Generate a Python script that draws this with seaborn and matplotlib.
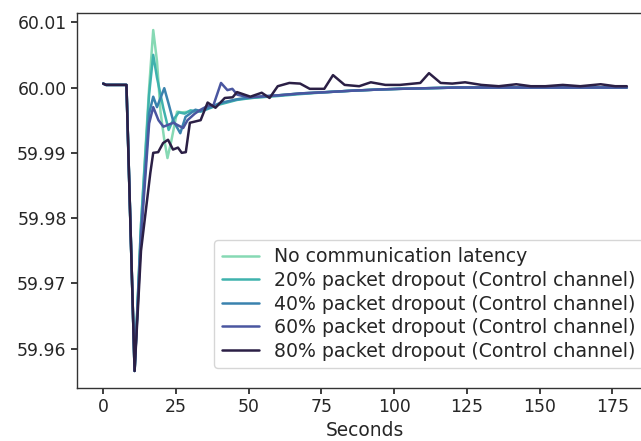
import matplotlib
matplotlib.use("Agg")
import matplotlib.pyplot as plt
import seaborn as sns
import pandas as pd

# Grid frequency response (Hz) over time (s) for different packet dropout rates
labels = [
    "No communication latency",
    "20% packet dropout (Control channel)",
    "40% packet dropout (Control channel)",
    "60% packet dropout (Control channel)",
    "80% packet dropout (Control channel)",
]

t_none = [0, 1, 8, 10.8, 13, 15.8, 17.2, 18.5, 19.7, 21, 22.1, 23.5, 25.4, 27, 30,
          33.5, 40, 46, 51, 60, 68, 77, 85, 95, 102, 112, 122, 135, 150, 165, 180]
f_none = [60.0006, 60.0004, 60.0004, 59.9566, 59.9790, 60.0000, 60.0088, 60.0040, 59.9963,
          59.9920, 59.9892, 59.9920, 59.9963, 59.9962, 59.9963,
          59.9964, 59.9975, 59.9982, 59.9984, 59.9988, 59.9991, 59.9993, 59.9995, 59.9997,
          59.9998, 59.9999, 60.0000, 60.0000, 60.0000, 60.0000, 60.0000]

t_20 = [0, 1, 8, 10.8, 13, 15.8, 17.2, 18.5, 20.7, 22.5, 24, 26, 28, 30,
        33.5, 40, 46, 51, 60, 68, 77, 85, 95, 102, 112, 122, 135, 150, 165, 180]
f_20 = [60.0006, 60.0004, 60.0004, 59.9566, 59.9790, 59.9990, 60.0050, 60.0015, 59.9968,
        59.9935, 59.9950, 59.9962, 59.9960, 59.9965,
        59.9963, 59.9974, 59.9981, 59.9984, 59.9987, 59.9990, 59.9993, 59.9995, 59.9997,
        59.9998, 59.9999, 60.0000, 60.0000, 60.0000, 60.0000, 60.0000]

t_40 = [0, 1, 8, 10.8, 13, 15.8, 17.2, 18.5, 21, 22.5, 24, 26.5, 28.3, 31.7,
        33.5, 37, 40, 46, 51, 60, 68, 77, 85, 95, 102, 112, 122, 135, 150, 165, 180]
f_40 = [60.0006, 60.0004, 60.0004, 59.9566, 59.9780, 59.9960, 59.9986, 59.9970, 59.9999,
        59.9975, 59.9950, 59.9930, 59.9955, 59.9966,
        59.9964, 59.9970, 59.9976, 59.9982, 59.9985, 59.9988, 59.9991, 59.9993, 59.9995,
        59.9997, 59.9998, 59.9999, 60.0000, 60.0000, 60.0000, 60.0000, 60.0000]

t_60 = [0, 1, 8, 10.8, 13, 15.8, 17.2, 19, 20.7, 24.1, 27.5, 29, 31.5, 33.5,
        36, 37.9, 40.5, 42.7, 44.4, 46.1, 50, 60, 68, 77, 85, 95, 102, 112, 122,
        135, 150, 165, 180]
f_60 = [60.0006, 60.0004, 60.0004, 59.9566, 59.9770, 59.9945, 59.9970, 59.9950, 59.9940,
        59.9946, 59.9938, 59.9950, 59.9960, 59.9966,
        59.9972, 59.9973, 60.0007, 59.9996, 59.9998, 59.9989, 59.9985, 59.9988, 59.9991,
        59.9993, 59.9995, 59.9997, 59.9998, 59.9999, 60.0000,
        60.0000, 60.0000, 60.0000, 60.0000]

t_80 = [0, 1, 8, 10.8, 13, 16.2, 17.2, 18.9, 20.6, 22.3, 24, 25.7, 27, 28.4, 29.8,
        33.5, 35.9, 38.6, 41.8, 44.5, 46, 50.6, 54.5, 57.2, 60, 64, 67.7, 71, 76, 79,
        83, 88, 92, 97, 102, 109, 112, 116, 120, 124.4, 130, 136, 142, 147, 152, 158,
        164, 171, 176, 180]
f_80 = [60.0006, 60.0004, 60.0004, 59.9566, 59.9750, 59.9869, 59.9900, 59.9901, 59.9915,
        59.9920, 59.9905, 59.9908, 59.9900, 59.9901, 59.9946,
        59.9950, 59.9977, 59.9969, 59.9984, 59.9985, 59.9993, 59.9986, 59.9992, 59.9984,
        60.0002, 60.0007, 60.0006, 59.9998, 59.9998, 60.0019,
        60.0004, 60.0002, 60.0008, 60.0004, 60.0004, 60.0007, 60.0022, 60.0007, 60.0006,
        60.0008, 60.0004, 60.0002, 60.0005, 60.0002, 60.0002, 60.0004,
        60.0002, 60.0005, 60.0002, 60.0002]

series = [(t_none, f_none), (t_20, f_20), (t_40, f_40), (t_60, f_60), (t_80, f_80)]

frames = []
for label, (t, f) in zip(labels, series):
    frames.append(pd.DataFrame({"Seconds": t, "Frequency": f, "Scenario": label}))
df = pd.concat(frames, ignore_index=True)

sns.set_theme(style="ticks", context="notebook")
plt.rcParams["font.family"] = ["DejaVu Sans"]

colors = ["#86d9b4", "#3fb2ad", "#3a82ae", "#4a56a0", "#2b1f45"]

fig = plt.figure(figsize=(6.41, 4.41), dpi=100)
ax = fig.add_axes([77 / 641, 1 - 388 / 441, 576 / 641, 375 / 441])

sns.lineplot(data=df, x="Seconds", y="Frequency", hue="Scenario", hue_order=labels,
             palette=colors, linewidth=1.8, ax=ax, sort=False, estimator=None)

ax.set_ylabel("")
ax.set_xlabel("Seconds", fontsize=13.4, labelpad=3)
ax.set_xticks([0, 25, 50, 75, 100, 125, 150, 175])
ax.set_yticks([59.96, 59.97, 59.98, 59.99, 60.00, 60.01])
ax.yaxis.set_major_formatter(matplotlib.ticker.FormatStrFormatter("%.2f"))
ax.tick_params(labelsize=12.4, length=4)
for s in ax.spines.values():
    s.set_linewidth(1.0)
    s.set_color("#333333")

ax.legend(title=None, fontsize=13.6, loc="lower right", frameon=True,
          labelspacing=0.24, bbox_to_anchor=(0.9835, 0.053), borderaxespad=0)

fig.savefig("out.png", dpi=100)
